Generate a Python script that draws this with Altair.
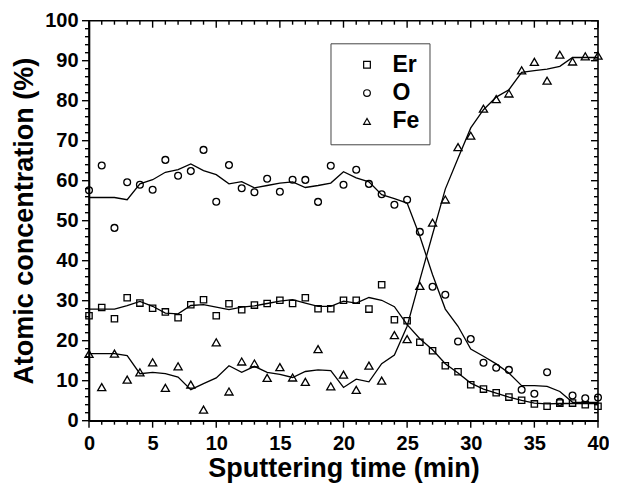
import altair as alt
import pandas as pd

time = list(range(41))

er_points = [26.25, 28.3, 25.5, 30.75, 29.4, 28.1, 27.2, 25.75, 29.0, 30.25,
             26.25, 29.25, 27.75, 28.9, 29.3, 30.1, 29.3, 30.75, 28.0, 28.0,
             30.1, 30.1, 27.9, 34.0, 25.25, 25.0, 19.6, 17.5, 13.75, 12.25,
             9.0, 7.9, 7.0, 5.9, 5.1, 4.2, 3.6, 4.4, 4.4, 4.0, 3.6]
o_points = [57.6, 63.8, 48.2, 59.6, 59.0, 57.75, 65.2, 61.25, 62.4, 67.7,
            54.75, 63.9, 58.1, 57.1, 60.5, 57.25, 60.25, 60.2, 54.7, 63.75,
            59.0, 62.75, 59.2, 56.6, 54.0, 55.25, 47.2, 33.5, 31.5, 19.8,
            20.4, 14.5, 13.25, 12.7, 7.75, 6.75, 12.1, 4.7, 6.3, 5.6, 5.8]
fe_points = [16.7, 8.4, 16.75, 10.25, 12.1, 14.6, 8.2, 13.6, 9.0, 2.75,
             19.6, 7.3, 14.8, 14.3, 10.7, 13.4, 10.8, 9.7, 17.9, 8.6,
             11.5, 7.7, 13.75, 10.0, 21.4, 20.4, 33.7, 49.5, 55.3, 68.4,
             71.25, 78.0, 80.4, 81.8, 87.6, 89.7, 85.0, 91.5, 89.8, 91.1, 91.25]

er_curve = [27.9, 27.9, 27.9, 28.75, 29.8, 28.6, 26.9, 26.7, 28.8, 29.0,
            28.4, 27.75, 28.4, 28.7, 29.3, 29.9, 30.25, 29.4, 28.6, 28.6,
            29.9, 29.4, 30.8, 30.1, 28.5, 24.0, 20.5, 17.75, 14.25, 11.9,
            9.4, 7.9, 6.9, 5.9, 5.1, 4.4, 4.2, 4.3, 4.3, 4.3, 4.3]
o_curve = [55.8, 55.8, 55.8, 55.25, 59.2, 60.25, 62.1, 62.75, 64.2, 62.5,
           61.5, 59.2, 59.75, 58.2, 58.8, 59.4, 59.7, 58.3, 58.8, 59.4,
           62.25, 60.7, 59.7, 56.5, 55.5, 54.4, 46.1, 36.5, 27.9, 23.6,
           17.9, 16.1, 14.2, 11.9, 8.75, 8.75, 8.6, 7.3, 4.6, 4.6, 4.6]
fe_curve = [16.75, 16.75, 16.75, 16.25, 11.75, 12.1, 11.75, 10.9, 7.75, 9.25,
            10.7, 13.75, 12.1, 13.6, 12.1, 11.6, 10.8, 12.3, 12.7, 12.5,
            8.3, 10.4, 9.7, 14.25, 16.4, 23.6, 35.2, 46.6, 57.9, 65.6,
            73.2, 77.75, 80.9, 82.75, 87.1, 87.5, 87.9, 88.6, 90.8, 90.8, 90.8]

series_names = ["Er", "O", "Fe"]
shape_names = ["square", "circle", "triangle-up"]
marker_sizes = [40, 46, 66]

x_major = list(range(0, 41, 5))
x_minor = [v for v in range(0, 41, 1) if v % 5 != 0]
y_major = list(range(0, 101, 10))
y_minor = [v for v in range(0, 101, 2) if v % 10 != 0]

X_MAX, Y_MAX = 40, 100
W, H = 509, 400
MAJOR, MINOR = 7, 4            # tick lengths in pixels
FONT = "Liberation Sans"

curve_rows = []
for name, vals in zip(series_names, [er_curve, o_curve, fe_curve]):
    for t, v in zip(time, vals):
        curve_rows.append({"series": name, "time": t, "value": v})
curves = pd.DataFrame(curve_rows)

x_scale = alt.Scale(domain=[0, X_MAX], nice=False, zero=False)
y_scale = alt.Scale(domain=[0, Y_MAX], nice=False, zero=False)

common_axis = dict(grid=False, ticks=False, domainColor="black", domainWidth=1.6,
                   labelFont=FONT, labelFontWeight="bold", labelFontSize=20,
                   labelColor="black", titleFont=FONT, titleFontWeight="bold",
                   titleColor="black", labelFlush=False, labelOverlap=False)

x_axis = alt.Axis(values=x_major, labelPadding=13, titleFontSize=27,
                  title="Sputtering time (min)", titlePadding=2, **common_axis)
y_axis = alt.Axis(values=y_major, labelPadding=11, titleFontSize=27,
                  title="Atomic concentration (%)", titlePadding=6, **common_axis)


def X(field):
    return alt.X(field, scale=x_scale, axis=x_axis)


def Y(field):
    return alt.Y(field, scale=y_scale, axis=y_axis)


lines = alt.Chart(curves).mark_line(color="black", strokeWidth=1.3).encode(
    x=X("time:Q"), y=Y("value:Q"), detail="series:N",
)

legend = alt.Legend(title=None, orient="none", legendX=241.5, legendY=22.6,
                    direction="vertical", strokeColor="#444444",
                    fillColor="white", padding=10, labelFont=FONT,
                    labelFontWeight="bold", labelFontSize=23, labelColor="black",
                    symbolSize=45, symbolStrokeWidth=1.2,
                    symbolStrokeColor="black", symbolFillColor="transparent",
                    rowPadding=4.3, symbolOffset=15, labelOffset=14)

point_layers = []
for name, vals, msize in zip(series_names, [er_points, o_points, fe_points],
                             marker_sizes):
    df = pd.DataFrame({"series": name, "time": time, "value": vals})
    point_layers.append(
        alt.Chart(df).mark_point(filled=False, color="black", strokeWidth=1.3,
                                 opacity=1, size=msize).encode(
            x=X("time:Q"), y=Y("value:Q"),
            shape=alt.Shape("series:N",
                            scale=alt.Scale(domain=series_names,
                                            range=shape_names),
                            legend=legend),
        )
    )

# tick lengths converted to data units
px_y = Y_MAX / H
px_x = X_MAX / W


def x_ticks(values, base, length):
    df = pd.DataFrame({"t": values, "a": base, "b": base + length})
    return alt.Chart(df).mark_rule(color="black", strokeWidth=1.4).encode(
        x=X("t:Q"), y=Y("a:Q"), y2="b:Q")


def y_ticks(values, base, length):
    df = pd.DataFrame({"t": values, "a": base, "b": base + length})
    return alt.Chart(df).mark_rule(color="black", strokeWidth=1.4).encode(
        y=Y("t:Q"), x=X("a:Q"), x2="b:Q")


tick_layers = [
    x_ticks(x_major, 0, -MAJOR * px_y), x_ticks(x_minor, 0, -MINOR * px_y),
    x_ticks(x_major, Y_MAX, -MAJOR * px_y), x_ticks(x_minor, Y_MAX, -MINOR * px_y),
    y_ticks(y_major, 0, -MAJOR * px_x), y_ticks(y_minor, 0, -MINOR * px_x),
    y_ticks(y_major, X_MAX, -MAJOR * px_x), y_ticks(y_minor, X_MAX, -MINOR * px_x),
]

chart = alt.layer(lines, *point_layers, *tick_layers).properties(
    width=W, height=H,
    autosize=alt.AutoSizeParams(type="none"),
    padding={"left": 81, "top": 12.7, "right": 11, "bottom": 63},
).configure_view(stroke="black", strokeWidth=1.6)

chart.save("out.html", embed_options={"renderer": "svg", "actions": False})
